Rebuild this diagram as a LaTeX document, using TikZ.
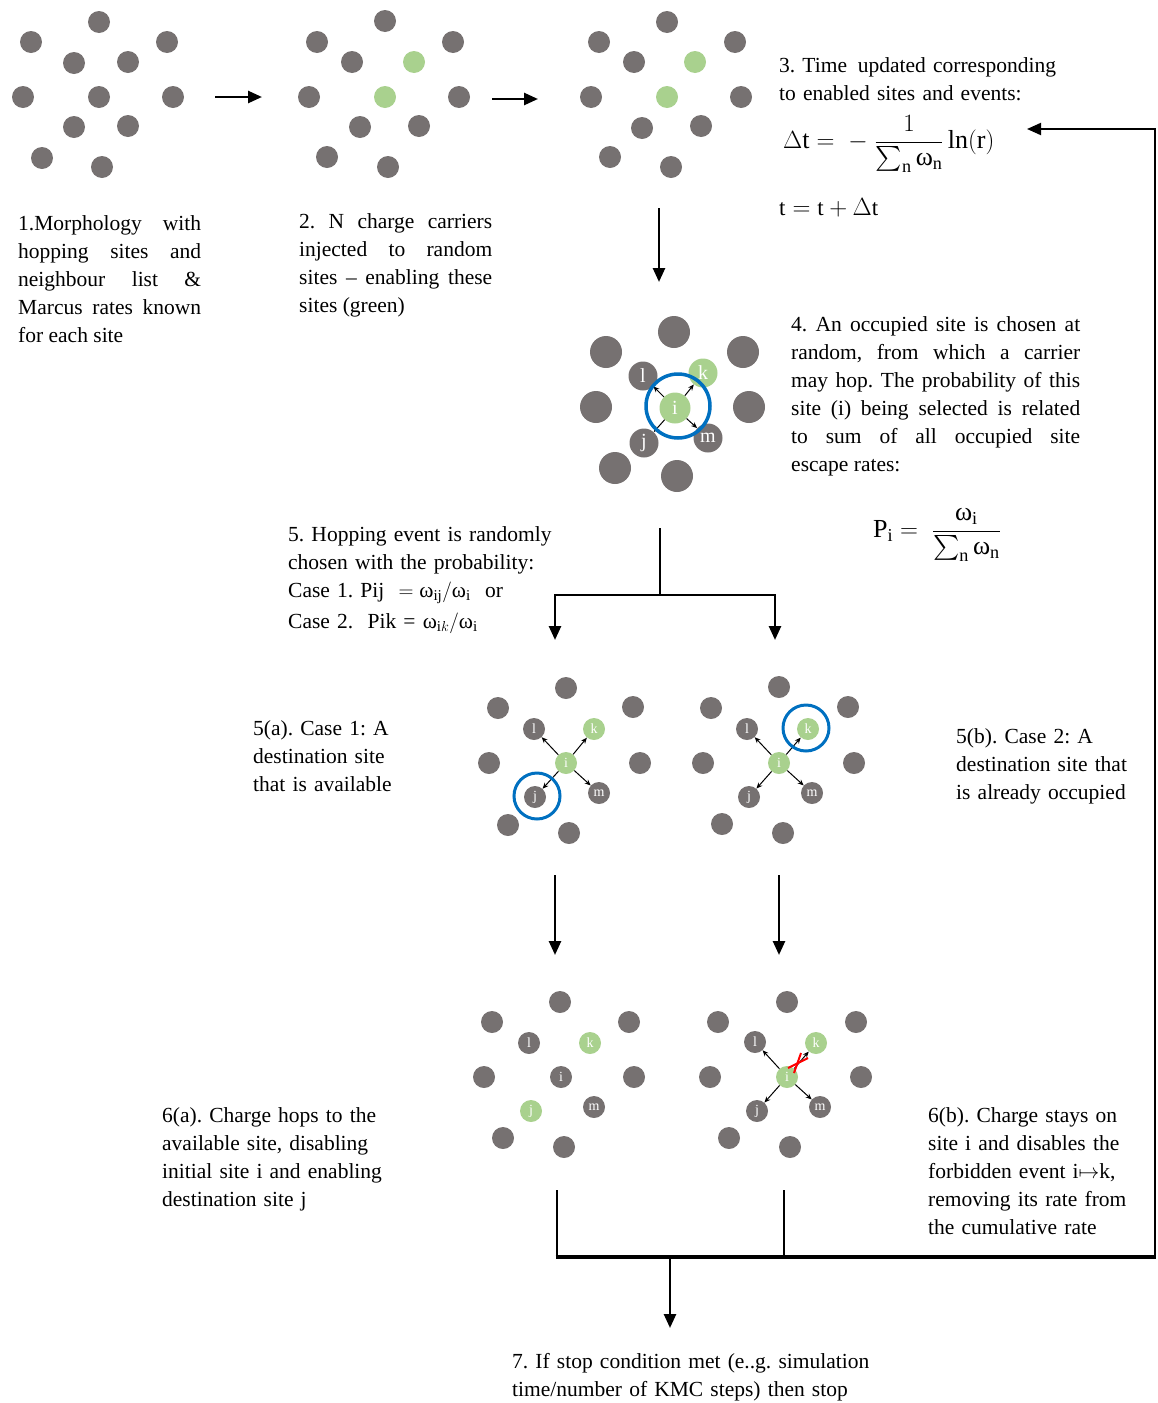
\documentclass[tikz,border=0pt]{standalone}
\usepackage{amsmath}
\usepackage{fontspec}
\setmainfont{Liberation Serif}
\usetikzlibrary{arrows.meta}
\definecolor{sitegray}{HTML}{767171}
\definecolor{sitegreen}{HTML}{A9D18E}
\definecolor{selblue}{HTML}{0070C0}
\newcommand{\omg}{\text{ω}}
\frenchspacing
\begin{document}
\begin{tikzpicture}[x=1pt,y=-1pt,
  site/.style={circle,fill=sitegray,minimum size=22pt,inner sep=0pt},
  gsite/.style={site,fill=sitegreen},
  bsite/.style={circle,fill=sitegray,minimum size=32pt,inner sep=0pt},
  lsite/.style={circle,fill=sitegray,minimum size=22pt,inner sep=0pt,text=white,font=\fontsize{14}{14}\selectfont},
  lgsite/.style={lsite,fill=sitegreen},
  Lsite/.style={circle,fill=sitegray,minimum size=29pt,inner sep=0pt,text=white,font=\fontsize{20}{20}\selectfont},
  Lgsite/.style={Lsite,fill=sitegreen},
  ring/.style={circle,draw=selblue,line width=3pt,inner sep=0pt,fill=none},
  flow/.style={line width=2.6pt,-{Triangle[length=14pt,width=12pt]}},
  flowline/.style={line width=2.6pt},
  hop/.style={line width=1pt,-{Stealth[length=6pt,width=5pt]}},
  desc/.style={anchor=north west,inner sep=0pt,font=\fontsize{21.5}{28}\selectfont},
  fml/.style={inner sep=0pt,font=\fontsize{26}{30}\selectfont},
]
\useasboundingbox (0,0) rectangle (1157,1403);

% ---------- panel 1 ----------
\foreach \x/\y [count=\n] in {99/22,31/42,167/42,74/63,128/62,23/97,99/97,173/97,74/127,128/126,42/158,102/167}
  \node[site] (a\n) at (\x,\y) {};
% ---------- panel 2 ----------
\foreach \x/\y [count=\n] in {385/21,317/42,453/42,352/62,309/97,459/97,360/127,419/126,327/157,388/167}
  \node[site] (b\n) at (\x,\y) {};
\node[gsite] (bg1) at (414,62) {};
\node[gsite] (bg2) at (385,97) {};
% ---------- panel 3 ----------
\foreach \x/\y [count=\n] in {667/22,599/42,735/42,634/62,591/97,741/97,642/128,701/126,610/157,671/167}
  \node[site] (c\n) at (\x,\y) {};
\node[gsite] (cg1) at (695,62) {};
\node[gsite] (cg2) at (667,97) {};

% ---------- panel 4 ----------
\foreach \x/\y [count=\n] in {674/332,606/352,743/352,596/407,749/407,615/468,677/476}
  \node[bsite] (d\n) at (\x,\y) {};
\node[Lsite]  (dl) at (643,376) {l};
\node[Lgsite] (dk) at (703,373) {k};
\node[Lgsite,minimum size=31pt] (di) at (675,408) {i};
\node[Lsite]  (dj) at (644,443) {j};
\node[Lsite]  (dm) at (708,438) {m};
\draw[hop] (di) -- (dl);
\draw[hop] (di) -- (dk);
\draw[hop] (di) -- (dj);
\draw[hop] (di) -- (dm);
\node[ring,line width=3.5pt,minimum size=64pt] (dring) at (678,406) {};

% ---------- panel 5a ----------
\foreach \x/\y [count=\n] in {566/688,498/708,633/707,489/763,640/763,508/825,569/833}
  \node[site] (e\n) at (\x,\y) {};
\node[lsite]  (el) at (534,729) {l};
\node[lgsite] (ek) at (594,729) {k};
\node[lgsite] (ei) at (566,763) {i};
\node[lsite]  (ej) at (535,797) {j};
\node[lsite]  (em) at (599,793) {m};
\draw[hop] (ei) -- (el);
\draw[hop] (ei) -- (ek);
\draw[hop] (ei) -- (ej);
\draw[hop] (ei) -- (em);
\node[ring,minimum size=46pt] (ering) at (537,796) {};

% ---------- panel 5b ----------
\foreach \x/\y [count=\n] in {779/687,711/708,848/707,703/763,854/763,722/824,783/833}
  \node[site] (f\n) at (\x,\y) {};
\node[lsite]  (fl) at (747,729) {l};
\node[lgsite] (fk) at (808,729) {k};
\node[lgsite] (fi) at (779,763) {i};
\node[lsite]  (fj) at (749,797) {j};
\node[lsite]  (fm) at (812,793) {m};
\draw[hop] (fi) -- (fl);
\draw[hop] (fi) -- (fk);
\draw[hop] (fi) -- (fj);
\draw[hop] (fi) -- (fm);
\node[ring,minimum size=46pt] (fring) at (806,728) {};

% ---------- panel 6a ----------
\foreach \x/\y [count=\n] in {560/1002,492/1022,629/1022,484/1077,634/1077,503/1138,564/1147}
  \node[site] (g\n) at (\x,\y) {};
\node[lsite]  (gl) at (529,1043) {l};
\node[lgsite] (gk) at (590,1043) {k};
\node[lsite]  (gi) at (561,1077) {i};
\node[lgsite] (gj) at (531,1111) {j};
\node[lsite]  (gm) at (594,1107) {m};

% ---------- panel 6b ----------
\foreach \x/\y [count=\n] in {787/1002,718/1022,856/1022,710/1077,861/1077,729/1138,790/1147}
  \node[site] (h\n) at (\x,\y) {};
\node[lsite]  (hl) at (755,1042) {l};
\node[lgsite] (hk) at (816,1043) {k};
\node[lgsite] (hi) at (787,1077) {i};
\node[lsite]  (hj) at (757,1111) {j};
\node[lsite]  (hm) at (820,1107) {m};
\draw[hop] (hi) -- (hl);
\draw[hop] (hi) -- (hk);
\draw[hop] (hi) -- (hj);
\draw[hop] (hi) -- (hm);
\coordinate (x1a) at (794,1073);
\coordinate (x1b) at (801,1053);
\coordinate (x2a) at (788,1068);
\coordinate (x2b) at (808,1058);
\draw[red,line width=2pt] (x1a) -- (x1b);
\draw[red,line width=2pt] (x2a) -- (x2b);

% ---------- texts ----------
\node[desc,text width=183pt,align=justify] (t1) at (18,210.4)
  {\strut 1.Morphology with\linebreak hopping sites and\linebreak neighbour list \&\linebreak Marcus rates known\linebreak for each site};
\node[desc,text width=193pt,align=justify] (t2) at (299,208.4)
  {\strut 2. N charge carriers\linebreak injected to random\linebreak sites -- enabling these\linebreak sites (green)};
\node[desc,text width=320pt,align=left] (t3) at (779,52.4)
  {\strut 3. Time\, updated corresponding\\to enabled sites and events:};
\node[fml,anchor=west] (f3) at (783,144)
  {$\Delta\mathrm{t} =\; -\;\dfrac{1}{\sum_{\mathrm{n}}\omg_{\mathrm{n}}}\ln(\mathrm{r})$};
\node[fml,anchor=base west,font=\fontsize{23}{28}\selectfont] (f3b) at (779,215)
  {$\mathrm{t}=\mathrm{t}+\Delta\mathrm{t}$};
\node[desc,text width=289pt,align=justify] (t4) at (791,311.4)
  {\strut 4. An occupied site is chosen at\linebreak random, from which a carrier\linebreak may hop. The probability of this\linebreak site (i) being selected is related\linebreak to sum of all occupied site\linebreak escape rates:};
\node[fml,anchor=west] (f4) at (873,535)
  {$\mathrm{P}_{\mathrm{i}} =\;\dfrac{\omg_{\mathrm{i}}}{\sum_{\mathrm{n}}\omg_{\mathrm{n}}}$};
\node[desc,text width=300pt,align=left] (t5) at (288,521.4)
  {\strut 5. Hopping event is randomly\\chosen with the probability:\\Case 1. Pij \ $=\omg_{\mathrm{ij}}/\omg_{\mathrm{i}}$ \ or\\[3pt]Case 2. \ Pik = $\omg_{\mathrm{i}k}/\omg_{\mathrm{i}}$};
\node[desc,text width=200pt,align=left] (t5a) at (253,715.4)
  {\strut 5(a). Case 1: A\\destination site\\that is available};
\node[desc,text width=200pt,align=left] (t5b) at (956,723.4)
  {\strut 5(b). Case 2: A\\destination site that\\is already occupied};
\node[desc,text width=240pt,align=left] (t6a) at (162,1102.4)
  {\strut 6(a). Charge hops to the\\available site, disabling\\initial site i and enabling\\destination site j};
\node[desc,text width=228pt,align=left] (t6b) at (928,1102.4)
  {\strut 6(b). Charge stays on\\site i and disables the\\forbidden event i$\mapsto$k,\\removing its rate from\\the cumulative rate};
\node[desc,text width=400pt,align=left] (t7) at (512,1348.4)
  {\strut 7. If stop condition met (e..g. simulation\\time/number of KMC steps) then stop};

% ---------- connectors ----------
\coordinate (p12s) at (215,97);
\coordinate (p12e) at (262,97);
\draw[flow] (p12s) -- (p12e);
\coordinate (p23s) at (492,99);
\coordinate (p23e) at (538,99);
\draw[flow] (p23s) -- (p23e);
\coordinate (p34s) at (659,208);
\coordinate (p34e) at (659,282);
\draw[flow] (p34s) -- (p34e);

\coordinate (b5top) at (660,528);
\coordinate (b5mid) at (660,595);
\coordinate (b5l) at (555,640);
\coordinate (b5r) at (775,640);
\draw[flowline] (b5top) -- (b5mid);
\draw[flow] (b5mid) -| (b5l);
\draw[flow] (b5mid) -| (b5r);

\coordinate (d6ls) at (555,875);
\coordinate (d6le) at (555,955);
\coordinate (d6rs) at (779,875);
\coordinate (d6re) at (779,955);
\draw[flow] (d6ls) -- (d6le);
\draw[flow] (d6rs) -- (d6re);

\coordinate (c6l) at (557,1190);
\coordinate (c6r) at (784,1190);
\coordinate (j6l) at (557,1257);
\coordinate (j6r) at (784,1257);
\coordinate (loopc) at (1155,1257);
\coordinate (t3in) at (1027,129);
\draw[line width=2pt] (c6l) -- (j6l);
\draw[line width=2pt] (c6r) -- (j6r);
\draw[line width=3.4pt] ([xshift=-1.3pt]j6l) -- ([xshift=1pt]loopc);
\draw[line width=2pt,-{Triangle[length=14pt,width=12pt]}] (loopc) |- (t3in);
\coordinate (s7s) at (670,1257);
\coordinate (s7e) at (670,1328);
\draw[flow] (s7s) -- (s7e);
\end{tikzpicture}
\end{document}
